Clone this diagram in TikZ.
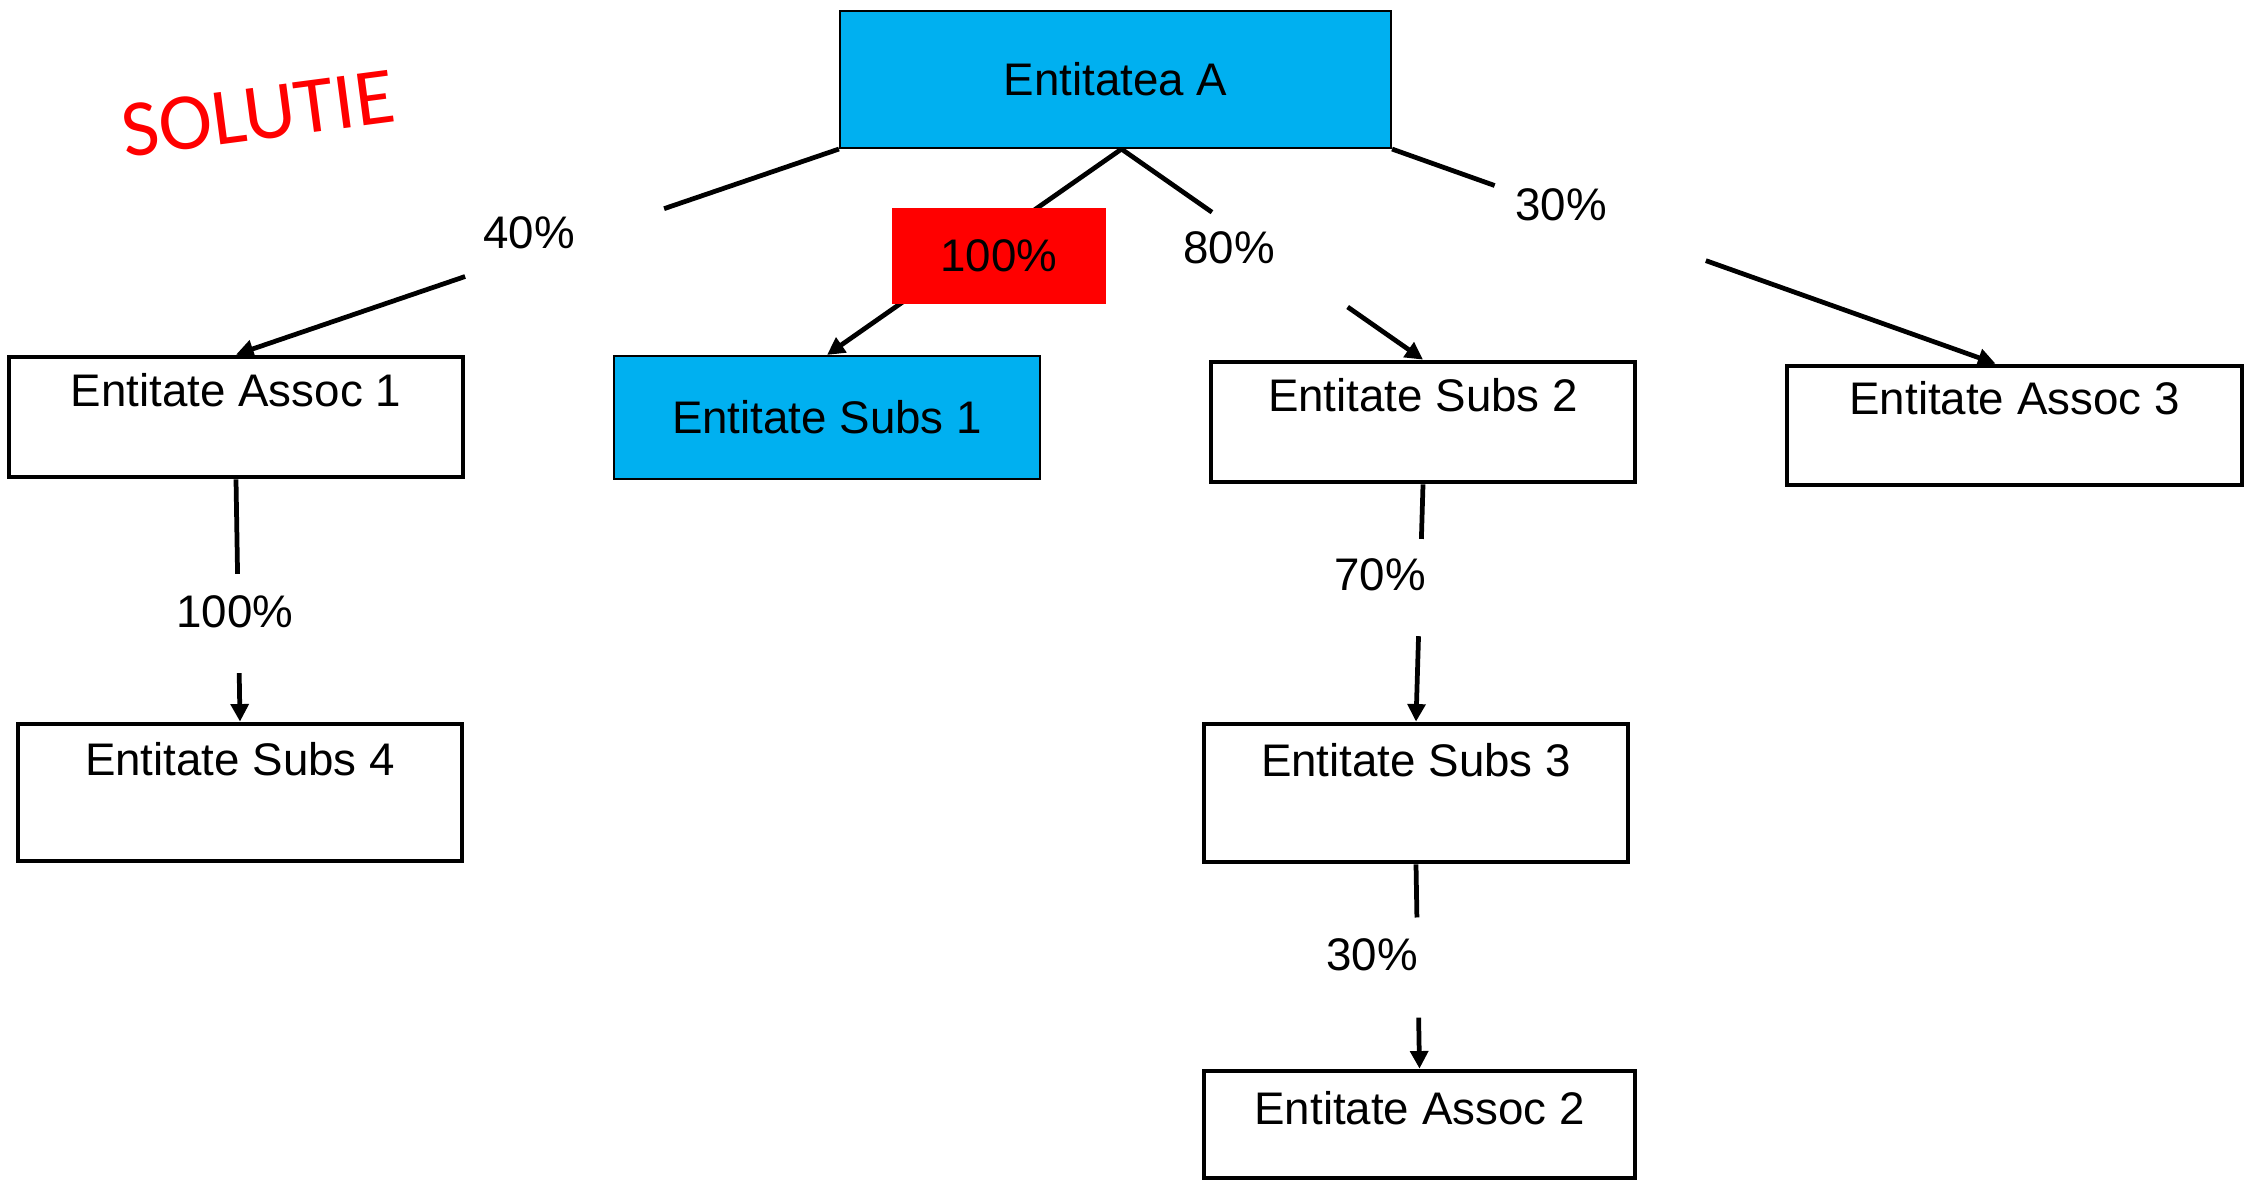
\documentclass[tikz,border=0pt]{standalone}
\usepackage{fontspec}
\setmainfont{Liberation Sans}
\newfontfamily\solfont{Carlito}
\usetikzlibrary{%
    arrows.meta,
    calc,
    positioning
}
\definecolor{entblue}{HTML}{00B0F0}
\tikzset{headarrow/.style = {-{Triangle[length=5pt,width=5pt]}}}
\tikzset{link/.style = {line width=1.35pt}}
\tikzset{entbox/.style = {rectangle, draw, line width=1.35pt, inner sep=0pt, align=center,
    font=\fontsize{13}{15.4}\selectfont}}
\tikzset{bluebox/.style = {entbox, fill=entblue, line width=0.6pt}}
\tikzset{pct/.style = {inner sep=0pt, font=\fontsize{13}{15.4}\selectfont}}

\begin{document}
\begin{tikzpicture}
    \useasboundingbox (0,0) rectangle (22.46,-11.81);

    \node[rotate=7.5, text=red, font=\solfont\fontsize{23}{28}\selectfont] (sol) at (2.58,-1.14) {SOLUTIE};

    \node[bluebox, minimum width=5.51cm, minimum height=1.37cm] (A) at (11.155,-0.795) {Entitatea A};
    \node[entbox, minimum width=4.54cm, minimum height=1.20cm] (assoc1) at (2.36,-4.17) {Entitate Assoc 1\\\mbox{}};
    \node[bluebox, minimum width=4.26cm, minimum height=1.23cm] (subs1) at (8.27,-4.175) {Entitate Subs 1};
    \node[entbox, minimum width=4.24cm, minimum height=1.20cm] (subs2) at (14.23,-4.22) {Entitate Subs 2\\\mbox{}};
    \node[entbox, minimum width=4.55cm, minimum height=1.19cm] (assoc3) at (20.145,-4.255) {Entitate Assoc 3\\\mbox{}};
    \node[entbox, minimum width=4.44cm, minimum height=1.37cm] (subs4) at (2.40,-7.925) {Entitate Subs 4\\[3.6pt]\mbox{}};
    \node[entbox, minimum width=4.24cm, minimum height=1.38cm] (subs3) at (14.16,-7.93) {Entitate Subs 3\\[3.6pt]\mbox{}};
    \node[entbox, minimum width=4.31cm, minimum height=1.07cm] (assoc2) at (14.195,-11.245) {Entitate Assoc 2\\[-6pt]\mbox{}};

    \coordinate (A-top) at ($(A.south)+(0.06,0)$);
    \coordinate (assoc3-in) at ($(assoc3.north)+(-0.19,0)$);

    % connectors, broken where the percentages sit
    \foreach \from/\to/\a/\b in {A.south west/assoc1.north/0.29/0.62,
                                 A-top/subs2.north/0.30/0.75,
                                 A.south east/assoc3-in/0.17/0.52,
                                 assoc1.south/subs4.north/0.39/0.80,
                                 subs2.south/subs3.north/0.23/0.64,
                                 subs3.south/assoc2.north/0.26/0.75} {
        \draw[link] (\from) -- ($(\from)!\a!(\to)$);
        \draw[link,headarrow] ($(\from)!\b!(\to)$) -- (\to);
    }
    \draw[link,headarrow] (A-top) -- (subs1.north);

    \node[pct] (p40) at (5.29,-2.33) {40\%};
    \node[pct, fill=red, minimum width=2.14cm, minimum height=0.96cm] (p100a) at (9.99,-2.56) {100\%};
    \node[pct] (p80) at (12.29,-2.48) {80\%};
    \node[pct] (p30a) at (15.61,-2.05) {30\%};
    \node[pct] (p100b) at (2.35,-6.12) {100\%};
    \node[pct] (p70) at (13.80,-5.75) {70\%};
    \node[pct] (p30b) at (13.72,-9.55) {30\%};
\end{tikzpicture}
\end{document}
